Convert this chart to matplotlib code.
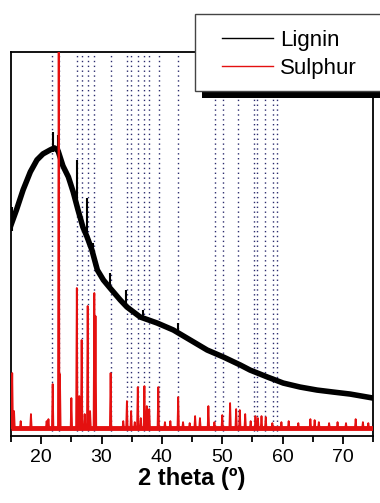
import matplotlib
matplotlib.use("Agg")
import matplotlib.pyplot as plt
from matplotlib.patches import Rectangle
from matplotlib.lines import Line2D
from matplotlib.ticker import MultipleLocator

plt.rcParams["font.family"] = ["Liberation Sans", "DejaVu Sans"]

# Lignin (black) - broad amorphous hump
lignin_2theta = [15.0, 15.9, 17.0, 18.2, 19.3, 20.3, 21.5, 22.2, 22.8, 23.6, 24.5, 25.3,
                 26.1, 26.9, 27.6, 28.4, 29.3, 30.3, 31.4, 33.1, 34.2, 36.4, 39.2,
                 41.9, 44.7, 47.5, 50.2, 53.0, 54.6, 57.5, 60.1, 62.9, 65.7, 68.4,
                 71.2, 75.0]
lignin_int = [211, 226, 246, 264, 276, 282, 286, 288, 285, 270, 259, 244,
              226, 209, 199, 186, 166, 156, 148, 136, 129, 119, 113,
              106, 96, 86, 79, 71, 66, 59, 53, 49, 46, 44,
              42, 38]

# small crystalline spikes on the lignin curve: position, bottom, top
lignin_spike_pos = [15.2, 22.0, 22.8, 25.9, 27.6, 28.6, 31.4, 34.1, 36.9, 42.7]
lignin_spike_low = [205, 284, 284, 230, 199, 182, 148, 130, 118, 104]
lignin_spike_top = [229, 304, 301, 276, 238, 193, 163, 146, 126, 113]

# Sulphur (red) reflections: position and peak height
sulphur_pos = [15.2, 15.5, 16.6, 18.3, 20.9, 21.2, 21.9, 22.9, 23.1, 25.0, 25.9,
               26.3, 26.7, 27.2, 27.7, 28.1, 28.8, 29.0, 31.5, 33.6, 34.2, 34.9,
               35.5, 36.0, 36.5, 37.1, 37.5, 37.9, 39.4, 40.5, 41.4, 42.7, 43.5,
               44.6, 45.5, 46.3, 47.7, 48.7, 50.0, 51.3, 52.3, 52.9, 53.8, 54.7,
               55.5, 55.9, 56.5, 57.2, 58.3, 59.8, 61.0, 62.6, 64.6, 65.3, 66.0,
               67.7, 69.1, 70.5, 72.1, 73.3, 74.2]
sulphur_int = [63, 25, 15, 22, 15, 17, 52, 420, 62, 38, 148,
               40, 96, 22, 130, 25, 143, 120, 63, 15, 35, 25,
               14, 49, 18, 50, 30, 27, 49, 14, 15, 39, 14,
               13, 20, 18, 30, 14, 21, 33, 27, 26, 22, 15,
               20, 18, 20, 19, 13, 14, 15, 13, 17, 16, 14,
               13, 14, 13, 17, 14, 13]
sulphur_base = 8

# reference reflection positions (dotted lines)
ref_lines = [21.85, 22.9, 25.9, 26.7, 27.7, 28.8, 31.5, 34.2, 34.9, 36.0, 37.1,
             37.9, 39.5, 42.7, 48.8, 50.1, 52.6, 55.3, 55.8, 57.1, 58.4, 59.1]

fig = plt.figure(figsize=(3.8, 5.03), dpi=100)
ax = fig.add_axes([0.029, 0.133, 0.953, 0.764])

for p in ref_lines:
    ax.axvline(p, color="#2b2b6e", ls=(0, (1, 2.5)), lw=1.0, zorder=1)

ax.plot(lignin_2theta, lignin_int, color="black", lw=4.0, zorder=2)
ax.vlines(lignin_spike_pos, lignin_spike_low, lignin_spike_top, color="black", lw=1.5, zorder=2)

# red trace built from the peak table
rx, ry = [15.0], [sulphur_base]
for p, h in zip(sulphur_pos, sulphur_int):
    rx += [p - 0.12, p, p + 0.12]
    ry += [sulphur_base, h, sulphur_base]
rx.append(75.0)
ry.append(sulphur_base)
ax.hlines(sulphur_base, 15, 75, color="#e41010", lw=3.5, zorder=3)
ax.plot(rx, ry, color="#e41010", lw=1.3, zorder=3)

ax.set_xlim(15, 75)
ax.set_ylim(0, 384)
ax.set_yticks([])
ax.xaxis.set_major_locator(MultipleLocator(10))
ax.xaxis.set_minor_locator(MultipleLocator(5))
ax.tick_params(axis="x", which="major", direction="out", length=6, width=1.3,
               labelsize=14, pad=3)
ax.tick_params(axis="x", which="minor", direction="out", length=4, width=1.3)
for s in ax.spines.values():
    s.set_linewidth(1.3)
ax.set_xlabel("2 theta (º)", fontsize=17, fontweight="bold", labelpad=1)

# legend box with a hard black shadow, running off the right edge
W, H = 380, 503
shadow = Rectangle((202 / W, 1 - 98 / H), 200 / W, 77 / H, transform=fig.transFigure,
                   facecolor="black", edgecolor="none", zorder=4)
frame = Rectangle((195 / W, 1 - 91 / H), 200 / W, 77 / H, transform=fig.transFigure,
                  facecolor="white", edgecolor="#444444", lw=1.0, zorder=4.5)
fig.patches.extend([shadow, frame])

handles = [Line2D([], [], color="black", lw=1.0), Line2D([], [], color="#e41010", lw=1.0)]
fig.legend(handles, ["Lignin", "Sulphur"], loc="upper left",
           bbox_to_anchor=(222 / W, 1 - 30 / H), frameon=False, fontsize=16,
           handlelength=2.3, handletextpad=0.3, labelspacing=0.3, borderpad=0,
           borderaxespad=0)

fig.savefig("out.png", dpi=100)
